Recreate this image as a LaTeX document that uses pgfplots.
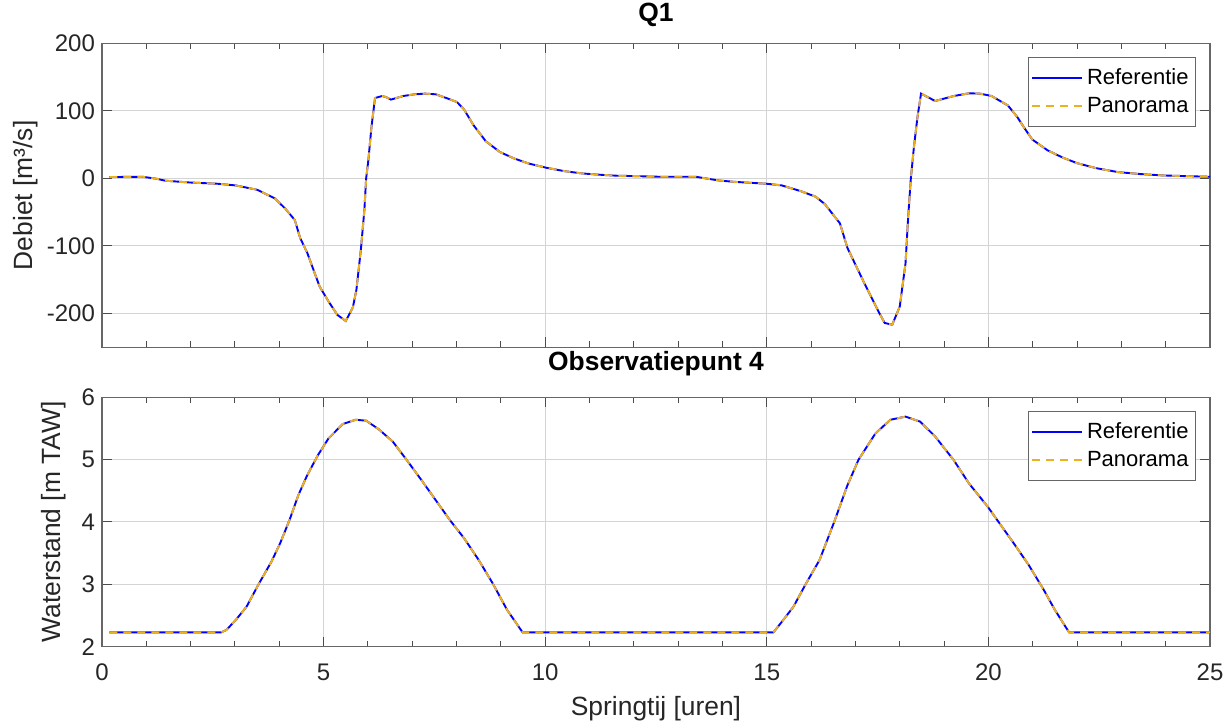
\documentclass[border=0pt]{standalone}
\usepackage{fontspec}
\setmainfont{Liberation Sans}
\usepackage{pgfplots}
\pgfplotsset{compat=1.18}
\usepackage{pgfplotstable}

\definecolor{mblue}{rgb}{0,0,1}
\definecolor{morange}{RGB}{237,177,32}
\definecolor{axgray}{RGB}{38,38,38}
\definecolor{gridgray}{RGB}{212,212,212}

\pgfplotstableread{
x q
0.167 2
0.5 2.2
0.92 2.4
1.23 -0.5
1.43 -3.4
1.97 -6
2.61 -7.9
3.02 -10.4
3.5 -16.8
3.9 -29.6
4.14 -45
4.35 -61.6
4.47 -88
4.63 -110
4.91 -160
5.11 -182
5.31 -202
5.50 -211
5.66 -191
5.74 -165
5.84 -106
5.92 -47
5.96 0
6.01 27
6.08 76
6.16 119
6.32 122
6.40 120.5
6.52 116.7
6.80 122
7.05 124.5
7.29 125.5
7.53 124.5
7.77 119
8.01 113
8.17 102
8.38 79
8.66 55
8.98 39
9.30 29.5
9.63 22
10.03 15.7
10.43 10.8
10.83 7.4
11.24 5.4
11.64 3.9
12.04 3.4
12.6 2.4
13.40 2.4
13.91 -3
14.25 -5
15.0 -7.9
15.34 -10.4
15.76 -18.7
16.10 -27
16.31 -38
16.65 -66.5
16.82 -103
17.20 -155
17.54 -199.5
17.66 -214
17.83 -216.6
18.0 -189.6
18.13 -125.6
18.19 -56.7
18.25 0
18.32 46.7
18.40 91
18.48 125.5
18.80 114.6
19.22 122
19.56 126
19.81 125.5
20.07 122
20.44 108
20.65 91
20.82 73.8
20.99 57.6
21.33 41.8
21.67 31
22.0 22.6
22.43 15.2
22.93 9.3
23.44 6.4
23.94 4.4
24.45 3.4
25.0 2.4
}\qdata

\pgfplotstableread{
x h
0.167 2.23
2.69 2.23
2.81 2.27
3.02 2.43
3.26 2.64
3.54 3.01
3.82 3.36
4.02 3.66
4.23 4.03
4.43 4.43
4.63 4.75
4.87 5.07
5.11 5.34
5.43 5.57
5.72 5.64
5.96 5.625
6.24 5.49
6.56 5.29
6.88 4.99
7.21 4.67
7.53 4.35
7.85 4.03
8.17 3.74
8.50 3.39
8.82 3.01
9.14 2.59
9.49 2.23
15.15 2.23
15.34 2.40
15.6 2.64
15.89 3.02
16.19 3.39
16.52 4.0
16.82 4.59
17.07 5.0
17.45 5.42
17.79 5.64
18.13 5.69
18.46 5.61
18.80 5.37
19.22 4.99
19.56 4.62
19.98 4.25
20.23 4.0
20.57 3.66
20.91 3.31
21.25 2.91
21.5 2.59
21.82 2.23
25.0 2.23
}\hdata

\pgfplotsset{
  myaxis/.style={
    scale only axis,
    width=554pt,
    xmin=0, xmax=25,
    xtick={0,5,...,25},
    minor x tick num=4,
    tick align=inside,
    major tick length=5pt,
    minor tick length=3pt,
    grid=major,
    major grid style={draw=gridgray, line width=0.5pt},
    axis line style={draw=black!60, line width=0.6pt},
    every tick/.style={draw=black!70, line width=0.5pt},
    tick label style={font=\fontsize{12}{14}\selectfont, text=axgray},
    /pgf/number format/assume math mode=true,
    label style={font=\fontsize{13.2}{15}\selectfont, text=axgray},
    legend style={at={(1,1)}, anchor=north east, xshift=-7pt, yshift=-6.7pt,
      draw=black!60, line width=0.5pt, font=\fontsize{11}{13}\selectfont,
      inner xsep=1.5pt, inner ysep=3.5pt, row sep=1pt},
    legend cell align=left,
    legend image code/.code={\draw[#1] (0pt,0pt) -- (25pt,0pt);},
  },
  refline/.style={draw=mblue, line width=0.95pt},
  panline/.style={draw=morange, line width=0.95pt, dash pattern=on 4pt off 3pt},
}

\begin{document}
\begin{tikzpicture}
\useasboundingbox (-51pt,-187.35pt) rectangle (562pt,173.65pt);
\begin{axis}[myaxis,
  at={(0pt,0pt)}, anchor=south west,
  height=152pt,
  ymin=-250, ymax=200,
  ytick={-200,-100,0,100,200},
  xticklabels={},
  ylabel={Debiet [m³/s]},
  ylabel style={at={(axis description cs:-0.0686,0.5)}, anchor=center},
  title={Q1},
  title style={at={(axis description cs:0.5,1)}, anchor=base, yshift=4.7pt, font=\bfseries\fontsize{13.2}{15}\selectfont},
]
\addplot[refline] table[x=x,y=q] {\qdata};
\addlegendentry{Referentie}
\addplot[panline] table[x=x,y=q] {\qdata};
\addlegendentry{Panorama}
\end{axis}
\begin{axis}[myaxis,
  at={(0pt,-25pt)}, anchor=north west,
  height=124.7pt,
  ymin=2, ymax=6,
  ytick={2,3,4,5,6},
  xticklabel style={yshift=-5pt},
  xlabel={Springtij [uren]},
  xlabel style={at={(axis description cs:0.5,0)}, anchor=base, yshift=-34.6pt},
  ylabel={Waterstand [m TAW]},
  ylabel style={at={(axis description cs:-0.0433,0.5)}, anchor=center},
  title={Observatiepunt 4},
  title style={at={(axis description cs:0.5,1)}, anchor=base, yshift=7.3pt, font=\bfseries\fontsize{13.2}{15}\selectfont},
]
\addplot[refline] table[x=x,y=h] {\hdata};
\addlegendentry{Referentie}
\addplot[panline] table[x=x,y=h] {\hdata};
\addlegendentry{Panorama}
\end{axis}
\end{tikzpicture}
\end{document}
